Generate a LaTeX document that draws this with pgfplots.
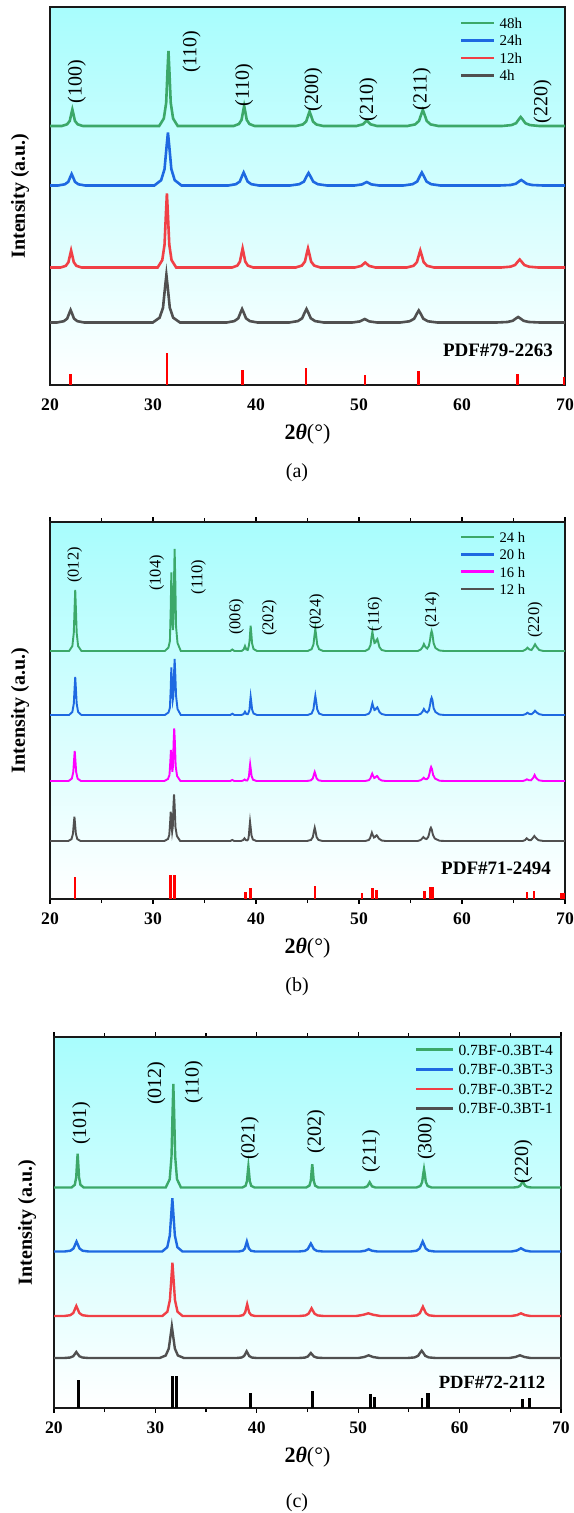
\documentclass[border=0pt]{standalone}
\usepackage{fontspec}
\setmainfont{Liberation Serif}
\usepackage{pgfplots}
\pgfplotsset{compat=1.18}

\definecolor{cgreen}{RGB}{60,168,105}
\definecolor{cblue}{RGB}{30,105,225}
\definecolor{cred}{RGB}{240,64,70}
\definecolor{cgray}{RGB}{80,80,80}
\definecolor{cmag}{RGB}{255,0,255}
\definecolor{bgtop}{RGB}{168,253,253}

\pgfplotsset{
  xrd/.style={
    scale only axis, anchor=south west,
    xmin=20, xmax=70, ymin=0,
    xtick={20,30,...,70}, minor xtick={25,35,...,65}, ytick=\empty,
    axis line style={line width=0.7pt, black!90},
    tick style={black, line width=0.6pt},
    tick align=outside, major tick length=2.4pt, minor tick length=2pt,
    /pgf/number format/assume math mode=true,
    xticklabel style={font=\fontsize{8.8}{10}\selectfont\bfseries, inner sep=0pt, yshift=-4.5pt},
    xlabel={\textbf{2\textit{θ}}(°)},
    xlabel style={font=\fontsize{11}{13}\selectfont, at={(axis description cs:0.5,0)}, anchor=center, yshift=-24.5pt},
    ylabel={\textbf{Intensity (a.u.)}},
    ylabel style={font=\fontsize{10}{12}\selectfont, at={(axis description cs:-0.058,0.5)}, anchor=center},
    axis background/.style={top color=bgtop, bottom color=white},
    legend cell align=left,
    legend image code/.code={\draw[#1, line width=1.3pt] (0pt,0pt) -- (16.5pt,0pt);},
    legend style={draw=none, fill=none, inner sep=0pt, outer sep=0pt, column sep=2pt,
      row sep=3.5pt, nodes={inner sep=0pt, text height=5.3pt, text depth=0pt},
      anchor=north west, font=\fontsize{7.5}{9}\selectfont},
  },
  curve/.style={line width=1.3pt, no markers},
}

\begin{document}
\begin{tikzpicture}
\useasboundingbox (0pt,0pt) rectangle (286.5pt,-756.5pt);

% ---------------- (a)
\begin{axis}[xrd, at={(25pt,-192.5pt)}, width=257.5pt, height=189pt, ymax=378,
  xtick style={draw=none},
  legend style={at={(axis description cs:0.796,0.972)}}]
\addplot[curve, cgreen] coordinates {(20,259)
 (21.15,259) (21.66,260.7) (21.92,264.1) (22.07,271.2) (22.17,275.5) (22.27,271.2) (22.42,264.1) (22.68,260.7) (23.19,259)
 (30.6,259) (31.05,266.5) (31.28,282.3) (31.41,314.5) (31.5,334) (31.59,314.5) (31.72,282.3) (31.95,266.5) (32.4,259)
 (37.83,259) (38.34,261) (38.6,265.2) (38.75,273.8) (38.85,279) (38.95,273.8) (39.1,265.2) (39.36,261) (39.87,259)
 (43.88,259) (44.54,260.5) (44.87,263.5) (45.07,269.7) (45.2,273.5) (45.33,269.7) (45.53,263.5) (45.86,260.5) (46.52,259)
 (49.75,259) (50.38,260.7) (50.75,264.5) (51.12,260.7) (51.75,259)
 (54.7,259) (55.45,260.6) (55.82,264) (56.05,270.8) (56.2,275) (56.35,270.8) (56.58,264) (56.95,260.6) (57.7,259)
 (63.9,259) (64.8,259.9) (65.25,261.8) (65.52,265.7) (65.7,268) (65.88,265.7) (66.15,261.8) (66.6,259.9) (67.5,259)
 (70,259)};
\addlegendentry{48h}
\addplot[curve, cblue] coordinates {(20,199.5)
 (20.78,199.5) (21.44,200.7) (21.77,203.1) (21.97,208) (22.1,211) (22.23,208) (22.43,203.1) (22.76,200.7) (23.42,199.5)
 (30.13,199.5) (30.79,204.8) (31.12,215.9) (31.32,238.7) (31.45,252.5) (31.58,238.7) (31.78,215.9) (32.11,204.8) (32.77,199.5)
 (37.3,199.5) (38.05,200.8) (38.43,203.5) (38.65,209.1) (38.8,212.5) (38.95,209.1) (39.18,203.5) (39.55,200.8) (40.3,199.5)
 (43.3,199.5) (44.2,200.8) (44.65,203.4) (44.92,208.8) (45.1,212) (45.28,208.8) (45.55,203.4) (46,200.8) (46.9,199.5)
 (49.55,199.5) (50.3,200.6) (50.75,203) (51.2,200.6) (51.95,199.5)
 (54.3,199.5) (55.2,200.8) (55.65,203.5) (55.92,209.1) (56.1,212.5) (56.28,209.1) (56.55,203.5) (57,200.8) (57.9,199.5)
 (63.65,199.5) (64.7,200) (65.22,201.2) (65.54,203.6) (65.75,205) (65.96,203.6) (66.28,201.2) (66.8,200) (67.85,199.5)
 (70,199.5)};
\addlegendentry{24h}
\addplot[curve, cred] coordinates {(20,117.5)
 (21.03,117.5) (21.54,119.2) (21.79,122.8) (21.95,130.1) (22.05,134.5) (22.15,130.1) (22.31,122.8) (22.56,119.2) (23.07,117.5)
 (30.45,117.5) (30.9,124.9) (31.12,140.4) (31.26,172.3) (31.35,191.5) (31.44,172.3) (31.58,140.4) (31.8,124.9) (32.25,117.5)
 (37.68,117.5) (38.19,119.4) (38.44,123.4) (38.6,131.6) (38.7,136.5) (38.8,131.6) (38.96,123.4) (39.21,119.4) (39.72,117.5)
 (43.85,117.5) (44.45,119.4) (44.75,123.4) (44.93,131.6) (45.05,136.5) (45.17,131.6) (45.35,123.4) (45.65,119.4) (46.25,117.5)
 (49.6,117.5) (50.22,119.1) (50.6,122.5) (50.98,119.1) (51.6,117.5)
 (54.63,117.5) (55.29,119.2) (55.62,122.8) (55.82,130.1) (55.95,134.5) (56.08,130.1) (56.28,122.8) (56.61,119.2) (57.27,117.5)
 (63.8,117.5) (64.7,118.3) (65.15,120) (65.42,123.4) (65.6,125.5) (65.78,123.4) (66.05,120) (66.5,118.3) (67.4,117.5)
 (70,117.5)};
\addlegendentry{12h}
\addplot[curve, cgray] coordinates {(20,62.5)
 (20.68,62.5) (21.34,63.8) (21.67,66.4) (21.87,71.8) (22,75) (22.13,71.8) (22.33,66.4) (22.66,63.8) (23.32,62.5)
 (29.98,62.5) (30.64,67.3) (30.97,77.2) (31.17,97.7) (31.3,110) (31.43,97.7) (31.63,77.2) (31.96,67.3) (32.62,62.5)
 (37.15,62.5) (37.9,63.9) (38.28,66.7) (38.5,72.5) (38.65,76) (38.8,72.5) (39.03,66.7) (39.4,63.9) (40.15,62.5)
 (43.22,62.5) (44.06,63.9) (44.48,66.7) (44.73,72.5) (44.9,76) (45.07,72.5) (45.32,66.7) (45.74,63.9) (46.58,62.5)
 (49.35,62.5) (50.1,63.6) (50.55,66) (51,63.6) (51.75,62.5)
 (54,62.5) (54.9,63.7) (55.35,66.2) (55.62,71.4) (55.8,74.5) (55.98,71.4) (56.25,66.2) (56.7,63.7) (57.6,62.5)
 (63.35,62.5) (64.4,63) (64.92,64.2) (65.24,66.6) (65.45,68) (65.66,66.6) (65.98,64.2) (66.5,63) (67.55,62.5)
 (70,62.5)};
\addlegendentry{4h}
\addplot[ycomb, no markers, red, line width=1.3pt, forget plot] coordinates {
 (22.0,10.7) (31.36,32.3) (38.7,15) (44.85,16.7) (50.6,10) (55.8,14) (65.4,11) (69.9,8.3)};
\begin{scope}[font=\fontsize{10}{11}\selectfont]
\node[rotate=90] at (axis cs:22.6,303.3) {(100)};
\node[rotate=90] at (axis cs:33.75,333.3) {(110)};
\node[rotate=90] at (axis cs:38.83,300) {(110)};
\node[rotate=90] at (axis cs:45.57,295) {(200)};
\node[rotate=90] at (axis cs:50.9,285) {(210)};
\node[rotate=90] at (axis cs:56.09,295.7) {(211)};
\node[rotate=90] at (axis cs:67.83,283.3) {(220)};
\end{scope}
\node[anchor=east, font=\fontsize{9.5}{11}\selectfont\bfseries] at (axis cs:69.5,35) {PDF\#79-2263};
\end{axis}
\node[font=\fontsize{10}{12}\selectfont] at (148.5pt,-236.5pt) {(a)};

% ---------------- (b)
\begin{axis}[xrd, at={(25pt,-449.5pt)}, width=257.5pt, height=188.5pt, ymax=377,
  legend style={at={(axis description cs:0.796,0.974)}, font=\fontsize{7.3}{9}\selectfont, row sep=3.35pt},
  curve/.style={line width=0.95pt, no markers}]
\addplot[curve, cgreen] coordinates {(20,248)
 (21.85,248) (22.17,252.9) (22.31,266.3) (22.39,291.9) (22.45,309) (22.51,291.9) (22.59,266.3) (22.73,252.9) (23.05,248)
 (31.15,248) (31.5,251.5) (31.64,258) (31.72,290) (31.78,326.7) (31.84,295) (31.92,269) (31.98,275) (32.04,318) (32.1,350) (32.16,321) (32.24,272) (32.38,256) (32.7,248)
 (37.5,248) (37.7,249.5) (37.9,248)
 (38.6,248) (38.8,249.5) (38.93,253) (39.06,249.5) (39.2,249) (39.3,253) (39.37,257.6) (39.43,266.2) (39.48,273.3) (39.54,266.2) (39.62,255.6) (39.76,250) (40.1,248)
 (45.01,248) (45.4,249.8) (45.58,254.6) (45.68,263.8) (45.76,270) (45.84,263.8) (45.94,254.6) (46.12,249.8) (46.51,248)
 (50.6,248) (50.95,250) (51.12,254) (51.22,262) (51.3,267.3) (51.38,262) (51.5,256) (51.6,256.5) (51.7,259) (51.78,260) (51.86,257) (51.98,252) (52.2,249) (52.6,248)
 (55.7,248) (56.0,249.5) (56.18,252) (56.3,255) (56.45,252) (56.62,250.5) (56.78,253) (56.9,259) (56.97,265) (57.05,268) (57.13,265) (57.24,256) (57.42,251) (57.8,248.5) (58.3,248)
 (65.9,248) (66.2,249.5) (66.35,251.3) (66.55,249.5) (66.75,249) (66.95,252) (67.09,254.7) (67.25,252) (67.5,249) (67.9,248)
 (70,248)};
\addlegendentry{24 h}
\addplot[curve, cblue] coordinates {(20,184)
 (21.85,184) (22.17,187) (22.31,195.4) (22.39,211.4) (22.45,222) (22.51,211.4) (22.59,195.4) (22.73,187) (23.05,184)
 (31.15,184) (31.5,186.5) (31.64,191) (31.72,210) (31.78,231.7) (31.84,214) (31.92,199) (31.98,203) (32.04,225) (32.1,240) (32.16,226) (32.24,203) (32.38,190) (32.7,184)
 (37.5,184) (37.7,185.3) (37.9,184)
 (38.6,184) (38.8,185) (38.93,187.3) (39.06,185) (39.2,184.8) (39.3,187) (39.37,189.5) (39.43,197.2) (39.48,202.3) (39.54,197.2) (39.62,189.5) (39.76,185.5) (40.1,184)
 (45.01,184) (45.4,185.5) (45.58,189.8) (45.68,197.9) (45.76,203.3) (45.84,197.9) (45.94,189.8) (46.12,185.5) (46.51,184)
 (50.6,184) (50.95,185.3) (51.12,188) (51.22,192.5) (51.3,195.7) (51.38,192.5) (51.5,189) (51.6,189.5) (51.7,191) (51.78,191.7) (51.86,190) (51.98,187) (52.2,185) (52.6,184)
 (55.7,184) (56.0,185.3) (56.18,187.5) (56.3,190) (56.45,187.5) (56.62,186.5) (56.78,188.5) (56.9,194) (56.97,199) (57.05,201.3) (57.13,199) (57.24,191) (57.42,187) (57.8,184.5) (58.3,184)
 (65.9,184) (66.2,185) (66.35,186.3) (66.55,185) (66.75,184.8) (66.95,186.5) (67.09,188.3) (67.25,186.5) (67.5,184.8) (67.9,184)
 (70,184)};
\addlegendentry{20 h}
\addplot[curve, cmag] coordinates {(20,118)
 (21.8,118) (22.12,120.4) (22.26,127) (22.34,139.6) (22.4,148) (22.46,139.6) (22.54,127) (22.68,120.4) (23,118)
 (31.1,118) (31.45,120) (31.6,124) (31.68,137) (31.74,149) (31.8,139) (31.88,127.3) (31.94,133) (32.0,156) (32.06,170.7) (32.12,158) (32.2,133) (32.34,123) (32.66,118)
 (37.5,118) (37.7,119) (37.9,118)
 (38.6,118) (38.78,118.6) (38.9,119.5) (39.02,118.6) (39.15,118.5) (39.25,120.5) (39.32,123) (39.38,130) (39.43,134.7) (39.49,130) (39.57,123) (39.71,119.3) (40.05,118)
 (44.95,118) (45.34,118.7) (45.52,120.7) (45.62,124.5) (45.7,127) (45.78,124.5) (45.88,120.7) (46.06,118.7) (46.45,118)
 (50.6,118) (50.95,118.8) (51.1,120.5) (51.2,123.3) (51.28,125.3) (51.36,123.3) (51.48,121) (51.58,121.5) (51.67,122.5) (51.75,123) (51.83,122) (51.95,120) (52.2,118.5) (52.6,118)
 (55.7,118) (56.0,118.8) (56.16,120) (56.28,121.3) (56.42,120) (56.58,119.8) (56.74,121.5) (56.86,126) (56.93,130) (57.0,132) (57.08,130) (57.2,124) (57.38,120.5) (57.8,118.3) (58.3,118)
 (65.9,118) (66.15,118.8) (66.3,119.7) (66.5,118.8) (66.7,118.7) (66.9,121) (67.05,124) (67.2,121) (67.45,118.7) (67.9,118)
 (70,118)};
\addlegendentry{16 h}
\addplot[curve, cgray] coordinates {(20,58)
 (21.77,58) (22.09,59.9) (22.23,65.3) (22.31,75.5) (22.37,82.3) (22.43,75.5) (22.51,65.3) (22.65,59.9) (22.97,58)
 (31.1,58) (31.45,60) (31.58,64) (31.66,76) (31.72,87.3) (31.78,78) (31.86,67.3) (31.92,72) (31.98,92) (32.04,104.7) (32.1,94) (32.18,72) (32.32,63) (32.64,58)
 (37.5,58) (37.7,59) (37.9,58)
 (38.55,58) (38.75,59) (38.88,60.7) (39.0,59) (39.14,58.6) (39.24,59.5) (39.31,63.8) (39.37,71.9) (39.42,77.3) (39.48,71.9) (39.56,63.8) (39.7,59.5) (40.04,58)
 (44.95,58) (45.34,59.1) (45.52,62) (45.62,67.6) (45.7,71.3) (45.78,67.6) (45.88,62) (46.06,59.1) (46.45,58)
 (50.6,58) (50.95,59) (51.08,61) (51.18,64) (51.25,66.3) (51.33,64) (51.45,61.5) (51.55,62) (51.64,63.2) (51.72,63.7) (51.8,62.5) (51.92,60.5) (52.2,58.5) (52.6,58)
 (55.7,58) (55.98,59) (56.13,60.5) (56.25,62) (56.4,60.5) (56.56,60) (56.72,62) (56.84,66.5) (56.91,70) (56.98,71.3) (57.06,69.5) (57.18,64) (57.36,60.5) (57.8,58.3) (58.3,58)
 (65.9,58) (66.13,59) (66.28,60.7) (66.48,59) (66.68,58.8) (66.88,61) (67.02,63) (67.18,61) (67.42,58.8) (67.9,58)
 (70,58)};
\addlegendentry{12 h}
\addplot[ycomb, no markers, red, line width=1.3pt, forget plot] coordinates {
 (22.41,22) (31.72,24) (32.07,24) (38.96,7) (39.46,11) (45.71,13) (50.29,6) (51.29,11) (51.71,8.6)
 (56.36,8.2) (56.9,12) (57.14,12) (66.3,7) (66.98,7.6) (69.64,6) (69.86,6)};
\begin{scope}[font=\fontsize{8.2}{9}\selectfont]
\node[rotate=90] at (axis cs:22.4,334) {(012)};
\node[rotate=90] at (axis cs:30.35,326) {(104)};
\node[rotate=90] at (axis cs:34.4,322) {(110)};
\node[rotate=90] at (axis cs:38.1,282) {(006)};
\node[rotate=90] at (axis cs:41.3,281) {(202)};
\node[rotate=90] at (axis cs:45.9,287) {(024)};
\node[rotate=90] at (axis cs:51.55,285) {(116)};
\node[rotate=90] at (axis cs:57.1,289) {(214)};
\node[rotate=90] at (axis cs:67.1,279) {(220)};
\end{scope}
\node[anchor=east, font=\fontsize{9.5}{11}\selectfont\bfseries] at (axis cs:69.32,30.7) {PDF\#71-2494};
\end{axis}
\node[font=\fontsize{10}{12}\selectfont] at (148.5pt,-493.5pt) {(b)};

% ---------------- (c)
\begin{axis}[xrd, at={(27pt,-704pt)}, width=253.5pt, height=185.5pt, ymax=371,
  ylabel style={at={(axis description cs:-0.053,0.5)}},
  legend style={at={(axis description cs:0.712,0.98)}, font=\fontsize{7.75}{9}\selectfont, row sep=4.5pt},
  legend image code/.code={\draw[#1, line width=1.3pt] (0pt,0pt) -- (18.5pt,0pt);},
  curve/.style={line width=1.2pt, no markers}]
\addplot[curve, cgreen] coordinates {(20,220.5)
 (21.73,220.5) (22.05,223.2) (22.19,230.6) (22.27,244.8) (22.33,254.2) (22.39,244.8) (22.47,230.6) (22.61,223.2) (22.93,220.5)
 (31.02,220.5) (31.41,228.8) (31.59,251.6) (31.69,295.2) (31.77,324.2) (31.85,295.2) (31.95,251.6) (32.13,228.8) (32.52,220.5)
 (38.57,220.5) (38.89,222.2) (39.03,226.8) (39.11,235.6) (39.17,241.5) (39.23,235.6) (39.31,226.8) (39.45,222.2) (39.77,220.5)
 (44.87,220.5) (45.19,222.4) (45.33,227.5) (45.41,237.3) (45.47,243.8) (45.53,237.3) (45.61,227.5) (45.75,222.4) (46.07,220.5)
 (50.6,220.5) (50.9,221.7) (51.13,225.8) (51.36,221.7) (51.7,220.5)
 (55.74,220.5) (56.13,222) (56.31,226) (56.41,233.7) (56.49,238.8) (56.57,233.7) (56.67,226) (56.85,222) (57.24,220.5)
 (65.3,220.5) (65.75,221) (65.98,222.3) (66.12,224.8) (66.22,226.5) (66.32,224.8) (66.46,222.3) (66.69,221) (67.1,220.5)
 (70,220.5)};
\addlegendentry{0.7BF-0.3BT-4}
\addplot[curve, cblue] coordinates {(20,156.5)
 (21.02,156.5) (21.62,157.3) (21.92,159.5) (22.1,163.7) (22.22,166.5) (22.34,163.7) (22.52,159.5) (22.82,157.3) (23.42,156.5)
 (30.67,156.5) (31.17,160.8) (31.42,172.5) (31.57,194.9) (31.67,209.8) (31.77,194.9) (31.92,172.5) (32.17,160.8) (32.67,156.5)
 (38.22,156.5) (38.62,157.3) (38.82,159.5) (38.94,163.7) (39.02,166.5) (39.1,163.7) (39.22,159.5) (39.42,157.3) (39.82,156.5)
 (44.13,156.5) (44.73,157.1) (45.03,158.9) (45.21,162.3) (45.33,164.5) (45.45,162.3) (45.63,158.9) (45.93,157.1) (46.53,156.5)
 (50.2,156.5) (50.7,157.3) (51.03,158.8) (51.36,157.3) (51.9,156.5)
 (55.16,156.5) (55.76,157.3) (56.06,159.5) (56.24,163.7) (56.36,166.5) (56.48,163.7) (56.66,159.5) (56.96,157.3) (57.56,156.5)
 (65.1,156.5) (65.65,157.5) (66.05,159.8) (66.45,157.5) (67.0,156.5)
 (70,156.5)};
\addlegendentry{0.7BF-0.3BT-3}
\addplot[curve, cred] coordinates {(20,92)
 (21.0,92) (21.6,92.8) (21.9,95) (22.08,99.2) (22.2,102) (22.32,99.2) (22.5,95) (22.8,92.8) (23.4,92)
 (30.68,92) (31.18,96.3) (31.43,108) (31.58,130.4) (31.68,145.3) (31.78,130.4) (31.93,108) (32.18,96.3) (32.68,92)
 (38.25,92) (38.65,92.9) (38.85,95.5) (38.97,100.4) (39.05,103.7) (39.13,100.4) (39.25,95.5) (39.45,92.9) (39.85,92)
 (44.2,92) (44.8,92.6) (45.1,94.3) (45.28,97.5) (45.4,99.7) (45.52,97.5) (45.7,94.3) (46.0,92.6) (46.6,92)
 (49.8,92) (50.5,93.2) (51.0,94.7) (51.5,93.2) (52.2,92)
 (55.18,92) (55.78,92.7) (56.08,94.8) (56.26,98.7) (56.38,101.3) (56.5,98.7) (56.68,94.8) (56.98,92.7) (57.58,92)
 (65.1,92) (65.65,92.9) (66.05,94.7) (66.45,92.9) (67.0,92)
 (70,92)};
\addlegendentry{0.7BF-0.3BT-2}
\addplot[curve, cgray] coordinates {(20,50)
 (21.0,50) (21.6,50.5) (21.9,51.8) (22.08,54.3) (22.2,56) (22.32,54.3) (22.5,51.8) (22.8,50.5) (23.4,50)
 (30.42,50) (31.02,52.5) (31.32,59.5) (31.5,72.8) (31.62,81.7) (31.74,72.8) (31.92,59.5) (32.22,52.5) (32.82,50)
 (38.0,50) (38.5,50.5) (38.75,52) (38.9,54.8) (39.0,56.7) (39.1,54.8) (39.25,52) (39.5,50.5) (40.0,50)
 (44.13,50) (44.73,50.4) (45.03,51.5) (45.21,53.6) (45.33,55) (45.45,53.6) (45.63,51.5) (45.93,50.4) (46.53,50)
 (50.0,50) (50.6,51) (51.03,52.7) (51.46,51) (52.1,50)
 (54.86,50) (55.56,50.6) (55.91,52.2) (56.11,55.3) (56.26,57.3) (56.41,55.3) (56.61,52.2) (56.96,50.6) (57.66,50)
 (64.9,50) (65.5,51) (65.95,52.7) (66.4,51) (67.0,50)
 (70,50)};
\addlegendentry{0.7BF-0.3BT-1}
\addplot[ycomb, no markers, black, line width=1.3pt, forget plot] coordinates {
 (22.4,28) (31.7,31.7) (32.1,31.7) (39.4,15) (45.47,17) (51.2,14) (51.6,10.7)
 (56.3,10.3) (56.8,15.3) (57.0,15.3) (66.2,8.7) (66.87,9.7)};
\begin{scope}[font=\fontsize{10}{11}\selectfont]
\node[rotate=90] at (axis cs:22.7,284.7) {(101)};
\node[rotate=90] at (axis cs:30.1,324.7) {(012)};
\node[rotate=90] at (axis cs:33.8,326.3) {(110)};
\node[rotate=90] at (axis cs:39.3,269.7) {(021)};
\node[rotate=90] at (axis cs:45.84,276.3) {(202)};
\node[rotate=90] at (axis cs:51.26,257.3) {(211)};
\node[rotate=90] at (axis cs:56.75,269.7) {(300)};
\node[rotate=90] at (axis cs:66.28,246.3) {(220)};
\end{scope}
\node[anchor=east, font=\fontsize{9.3}{11}\selectfont\bfseries] at (axis cs:69.14,25.3) {PDF\#72-2112};
\end{axis}
\node[font=\fontsize{10}{12}\selectfont] at (148.5pt,-751.5pt) {(c)};
\end{tikzpicture}
\end{document}
